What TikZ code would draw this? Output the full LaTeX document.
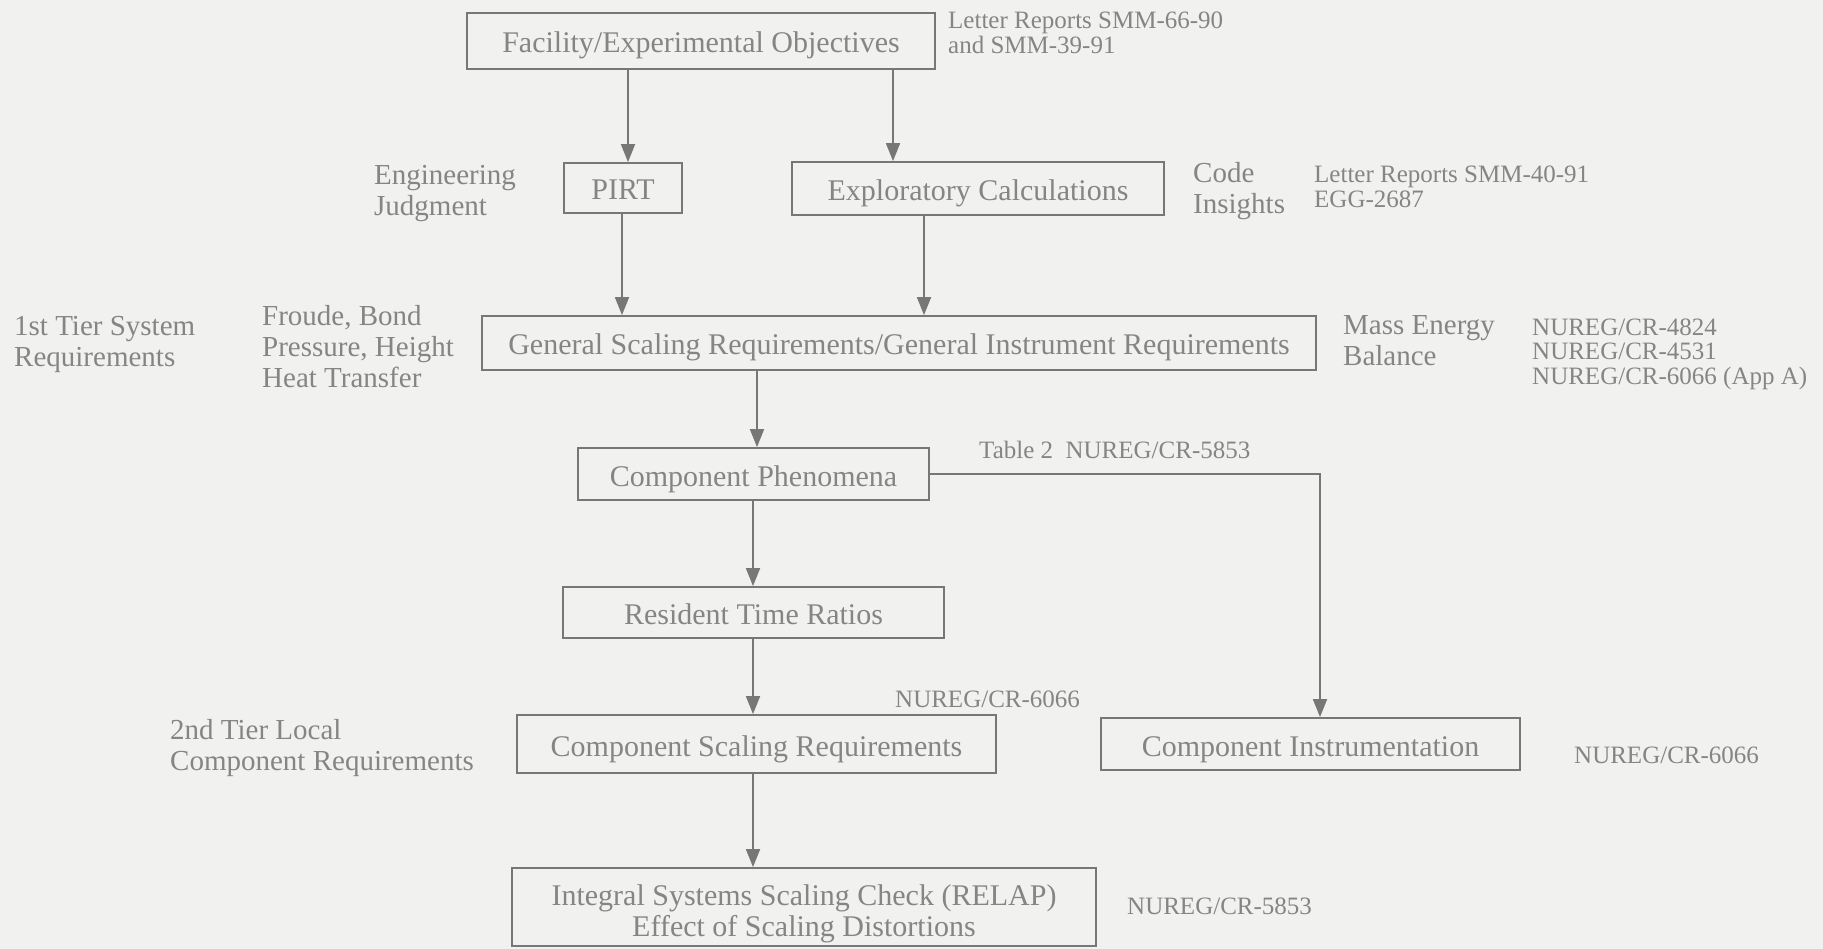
\documentclass[tikz,border=0pt]{standalone}
\usepackage{fontspec}
\setmainfont{Liberation Serif}
\usetikzlibrary{arrows.meta}
\definecolor{bgc}{HTML}{F1F1EF}
\definecolor{txc}{HTML}{858585}
\definecolor{lnc}{HTML}{777777}
\tikzset{
  boxnode/.style={draw=lnc, line width=1.8pt, text=txc, inner sep=0pt, align=center,
    text height=28pt, text depth=4pt,
    font=\fontsize{30}{31}\selectfont},
  boxtext/.style={text=txc, inner sep=0pt, align=center,
    font=\fontsize{30}{31}\selectfont},
  desclabel/.style={text=txc, inner sep=0pt, anchor=west, align=left,
    font=\fontsize{29}{31}\selectfont},
  reflabel/.style={text=txc, inner sep=0pt, anchor=west, align=left,
    font=\fontsize{25}{24.5}\selectfont},
  arr/.style={draw=lnc, line width=1.8pt, -{Triangle[length=18pt,width=14pt]}},
}
\begin{document}
\begin{tikzpicture}[x=1pt,y=-1pt]
\useasboundingbox[fill=bgc] (0,0) rectangle (1823,949);
% boxes
\node[boxnode, minimum width=468pt, minimum height=56pt] (fac) at (701,41) {Facility/Experimental Objectives};
\node[boxnode, minimum width=118pt, minimum height=50pt] (pirt) at (623,188) {PIRT};
\node[boxnode, minimum width=372pt, minimum height=53pt] (expl) at (978,188.5) {Exploratory Calculations};
\node[boxnode, minimum width=834pt, minimum height=54pt] (gen) at (899,343) {General Scaling Requirements/General Instrument Requirements};
\node[boxnode, minimum width=351pt, minimum height=52pt] (cph) at (753.5,474) {Component Phenomena};
\node[boxnode, minimum width=381pt, minimum height=51pt] (rtr) at (753.5,612.5) {Resident Time Ratios};
\node[boxnode, minimum width=479pt, minimum height=58pt] (csr) at (756.5,744) {Component Scaling Requirements};
\node[boxnode, minimum width=419pt, minimum height=52pt] (cin) at (1310.5,744) {Component Instrumentation};
\node[draw=lnc, line width=1.8pt, inner sep=0pt, minimum width=584pt, minimum height=78pt,
  label={[boxtext, yshift=-7pt]center:Integral Systems Scaling Check (RELAP)\\Effect of Scaling Distortions}] (isc) at (804,907) {};
% helper x positions
\coordinate (xa) at (628,0);
\coordinate (xb) at (893,0);
\coordinate (xc) at (622,0);
\coordinate (xd) at (924,0);
\coordinate (xe) at (757,0);
\coordinate (xf) at (753,0);
\coordinate (xr) at (1320,0);
% connectors
\draw[arr] (fac.south -| xa) -- (pirt.north -| xa);
\draw[arr] (fac.south -| xb) -- (expl.north -| xb);
\draw[arr] (pirt.south -| xc) -- (gen.north -| xc);
\draw[arr] (expl.south -| xd) -- (gen.north -| xd);
\draw[arr] (gen.south -| xe) -- (cph.north -| xe);
\draw[arr] (cph.south -| xf) -- (rtr.north -| xf);
\draw[arr] (rtr.south -| xf) -- (csr.north -| xf);
\draw[arr] (csr.south -| xf) -- (isc.north -| xf);
\draw[arr] (cph.east) -- (cph.east -| xr) -- (cin.north -| xr);
% labels
\node[reflabel] (lr1) at (948,33) {Letter Reports SMM-66-90\\and SMM-39-91};
\node[desclabel] (eng) at (374,194) {Engineering\\Judgment};
\node[desclabel] (code) at (1193,191) {Code\\Insights};
\node[reflabel] (lr2) at (1314,187) {Letter Reports SMM-40-91\\EGG-2687};
\node[desclabel] (tier1) at (14,344.5) {1st Tier System\\Requirements};
\node[desclabel] (fro) at (262,346.5) {Froude, Bond\\Pressure, Height\\Heat Transfer};
\node[desclabel] (mass) at (1343,341) {Mass Energy\\Balance};
\node[reflabel] (nur1) at (1532,354) {NUREG/CR-4824\\NUREG/CR-4531\\NUREG/CR-6066 (App A)};
\node[reflabel] (tab) at (979,450) {Table 2\ \ NUREG/CR-5853};
\node[reflabel] (n66a) at (895,699) {NUREG/CR-6066};
\node[desclabel] (tier2) at (170,748) {2nd Tier Local\\Component Requirements};
\node[reflabel] (n66b) at (1574,755.5) {NUREG/CR-6066};
\node[reflabel] (n58) at (1127,906.5) {NUREG/CR-5853};
\end{tikzpicture}
\end{document}
